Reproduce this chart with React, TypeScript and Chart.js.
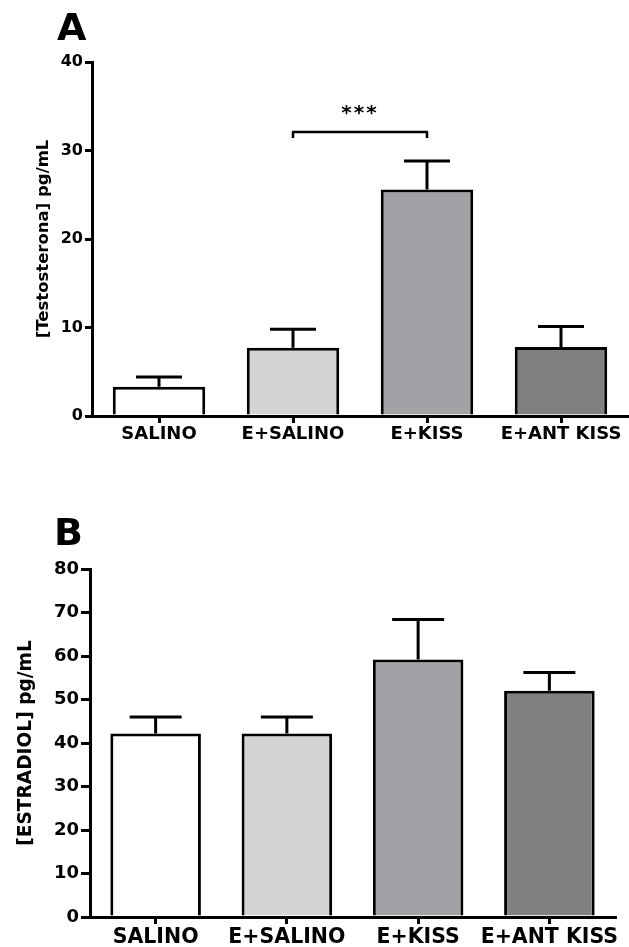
import { useEffect, useRef } from 'react';
import { Chart, registerables } from 'chart.js';

Chart.register(...registerables);

// Treatment groups shared by both panels
const groups = ['SALINO', 'E+SALINO', 'E+KISS', 'E+ANT KISS'];
const barColors = ['#ffffff', '#d4d4d4', '#a2a2a6', '#808080'];

// Panel A: serum testosterone (mean ± SEM, pg/mL)
const testosteroneMean = [3.3, 7.7, 25.6, 7.8];
const testosteroneSem = [1.1, 2.1, 3.2, 2.3];
const testosteroneTicks = [0, 10, 20, 30, 40];

// Panel B: serum estradiol (mean ± SEM, pg/mL)
const estradiolMean = [42.2, 42.2, 59.2, 52.0];
const estradiolSem = [3.8, 3.8, 9.2, 4.2];
const estradiolTicks = [0, 10, 20, 30, 40, 50, 60, 70, 80];

// Significant difference marked over panel A (group indices)
const testosteroneComparison = { from: 1, to: 2, level: 32.1, label: '***' };

const FONT = "'DejaVu Sans', sans-serif";

type Comparison = { from: number; to: number; level: number; label: string };

type PanelSpec = {
  letter: string;
  means: number[];
  sems: number[];
  ticks: number[];
  yTitle: string;
  comparison?: Comparison;
  width: number;
  height: number;
  areaTop: number;
  areaBottom: number;
  areaLeft: number;
  areaRight: number;
  tickFont: number;
  labelFont: number;
  titleFont: number;
  titlePad: number;
  yTickLength: number;
  yTickPad: number;
  xTickLength: number;
  xTickPad: number;
  capHalf: number;
  letterX: number;
  letterBaseline: number;
};

const panelA: PanelSpec = {
  letter: 'A',
  means: testosteroneMean,
  sems: testosteroneSem,
  ticks: testosteroneTicks,
  yTitle: '[Testosterona] pg/mL',
  comparison: testosteroneComparison,
  width: 629,
  height: 470,
  areaTop: 62,
  areaBottom: 416,
  areaLeft: 92,
  areaRight: 628,
  tickFont: 16,
  labelFont: 18,
  titleFont: 16.5,
  titlePad: 34,
  yTickLength: 7,
  yTickPad: 2,
  xTickLength: 7,
  xTickPad: 1,
  capHalf: 23,
  letterX: 57,
  letterBaseline: 40,
};

const panelB: PanelSpec = {
  letter: 'B',
  means: estradiolMean,
  sems: estradiolSem,
  ticks: estradiolTicks,
  yTitle: '[ESTRADIOL] pg/mL',
  width: 629,
  height: 477,
  areaTop: 99,
  areaBottom: 447,
  areaLeft: 90,
  areaRight: 615,
  tickFont: 18,
  labelFont: 20.5,
  titleFont: 18.6,
  titlePad: 15,
  yTickLength: 9,
  yTickPad: 2,
  xTickLength: 7,
  xTickPad: 1,
  capHalf: 26,
  letterX: 54,
  letterBaseline: 75,
};

function boldFont(size: number) {
  return { family: FONT, size, weight: 'bold' as const };
}

function errorBarPlugin(s: PanelSpec) {
  return {
    id: 'errorBars',
    afterDatasetsDraw(chart: any) {
      const { ctx } = chart;
      const y = chart.scales.y;
      const meta = chart.getDatasetMeta(0);
      ctx.save();
      ctx.strokeStyle = '#000';
      ctx.lineWidth = 3;
      ctx.lineCap = 'butt';
      meta.data.forEach((bar: any, i: number) => {
        const base = y.getPixelForValue(s.means[i]);
        const top = y.getPixelForValue(s.means[i] + s.sems[i]);
        ctx.beginPath();
        ctx.moveTo(bar.x, base);
        ctx.lineTo(bar.x, top);
        ctx.moveTo(bar.x - s.capHalf, top);
        ctx.lineTo(bar.x + s.capHalf, top);
        ctx.stroke();
      });
      ctx.restore();
    },
  };
}

function letterPlugin(s: PanelSpec) {
  return {
    id: 'panelLetter',
    afterDraw(chart: any) {
      const { ctx } = chart;
      ctx.save();
      ctx.fillStyle = '#000';
      ctx.font = `bold 38px ${FONT}`;
      ctx.textAlign = 'left';
      ctx.textBaseline = 'alphabetic';
      ctx.fillText(s.letter, s.letterX, s.letterBaseline);
      ctx.restore();
    },
  };
}

function bracketPlugin(c: Comparison) {
  return {
    id: 'significance',
    afterDatasetsDraw(chart: any) {
      const { ctx } = chart;
      const x1 = chart.scales.x.getPixelForValue(c.from);
      const x2 = chart.scales.x.getPixelForValue(c.to);
      const y = chart.scales.y.getPixelForValue(c.level);
      ctx.save();
      ctx.strokeStyle = '#000';
      ctx.lineWidth = 2.5;
      ctx.lineJoin = 'round';
      ctx.beginPath();
      ctx.moveTo(x1, y + 6);
      ctx.lineTo(x1, y);
      ctx.lineTo(x2, y);
      ctx.lineTo(x2, y + 6);
      ctx.stroke();
      ctx.fillStyle = '#000';
      ctx.font = `bold 20px ${FONT}`;
      (ctx as any).letterSpacing = '2px';
      ctx.textAlign = 'center';
      ctx.textBaseline = 'alphabetic';
      ctx.fillText(c.label, (x1 + x2) / 2, y - 13);
      ctx.restore();
    },
  };
}

function buildConfig(s: PanelSpec): any {
  const plugins: any[] = [errorBarPlugin(s), letterPlugin(s)];
  if (s.comparison) plugins.push(bracketPlugin(s.comparison));
  return {
    type: 'bar',
    data: {
      labels: groups,
      datasets: [
        {
          data: s.means,
          backgroundColor: barColors,
          borderColor: '#000',
          borderWidth: 3,
          borderSkipped: 'start',
          barPercentage: 0.69,
          categoryPercentage: 1,
        },
      ],
    },
    options: {
      responsive: false,
      animation: false,
      devicePixelRatio: 1,
      layout: {
        padding: { top: s.areaTop, left: 0, right: s.width - s.areaRight, bottom: 0 },
      },
      plugins: {
        legend: { display: false },
        tooltip: { enabled: false },
      },
      scales: {
        x: {
          type: 'category',
          grid: {
            offset: false,
            drawOnChartArea: false,
            color: '#000',
            lineWidth: 3,
            tickLength: s.xTickLength,
          },
          border: { color: '#000', width: 3 },
          ticks: {
            font: boldFont(s.labelFont),
            color: '#000',
            padding: s.xTickPad,
            maxRotation: 0,
            minRotation: 0,
            autoSkip: false,
          },
          afterFit: (sc: any) => {
            sc.height = s.height - s.areaBottom;
            sc.paddingLeft = 0;
            sc.paddingRight = 0;
          },
        },
        y: {
          min: s.ticks[0],
          max: s.ticks[s.ticks.length - 1],
          afterBuildTicks: (sc: any) => {
            sc.ticks = s.ticks.map((v) => ({ value: v }));
          },
          grid: {
            drawOnChartArea: false,
            color: '#000',
            lineWidth: 3,
            tickLength: s.yTickLength,
          },
          border: { color: '#000', width: 3 },
          ticks: {
            font: boldFont(s.tickFont),
            color: '#000',
            padding: s.yTickPad,
          },
          title: {
            display: true,
            text: s.yTitle,
            color: '#000',
            font: boldFont(s.titleFont),
            padding: { top: s.titlePad, bottom: 0 },
          },
          afterFit: (sc: any) => {
            sc.width = s.areaLeft;
          },
        },
      },
    },
    plugins,
  };
}

function Panel({ spec }: { spec: PanelSpec }) {
  const ref = useRef<HTMLCanvasElement>(null);
  useEffect(() => {
    const canvas = ref.current;
    if (!canvas) return;
    const chart = new Chart(canvas, buildConfig(spec));
    return () => chart.destroy();
  }, [spec]);
  return (
    <canvas
      ref={ref}
      width={spec.width}
      height={spec.height}
      style={{ display: 'block', width: spec.width, height: spec.height }}
    />
  );
}

export default function App() {
  return (
    <div
      style={{
        position: 'absolute',
        left: 0,
        top: 0,
        width: 629,
        height: 947,
        background: '#fff',
        overflow: 'hidden',
      }}
    >
      <Panel spec={panelA} />
      <Panel spec={panelB} />
    </div>
  );
}
